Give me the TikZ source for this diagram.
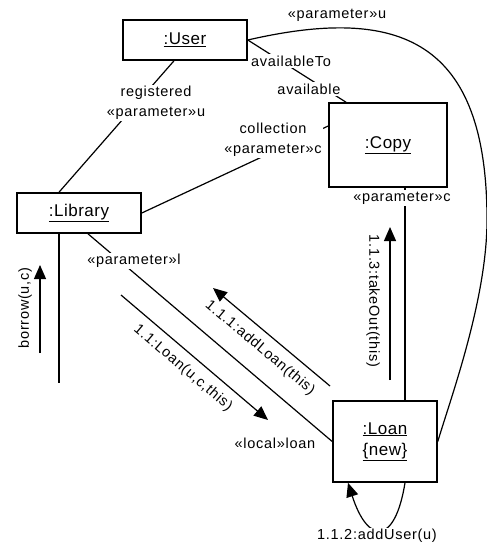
\documentclass[tikz,border=0pt]{standalone}
\usepackage{fontspec}
\setmainfont{Liberation Sans}[LetterSpace=5]
\newfontfamily\boxfont{Liberation Sans}[LetterSpace=3]
\usetikzlibrary{arrows.meta}
\begin{document}
\begin{tikzpicture}[x=1pt,y=-1pt,
  obj/.style={draw,line width=1.6pt,inner sep=0pt,align=center,font=\boxfont\fontsize{17}{21}\selectfont},
  conn/.style={line width=1.2pt},
  msg/.style={line width=1.2pt,-{Triangle[length=14pt,width=12pt]}},
  lbl/.style={fill=white,inner sep=1.5pt,align=center,font=\fontsize{14.5}{20}\selectfont},
  mlbl/.style={inner sep=0pt,font=\fontsize{14.5}{17}\selectfont}]
\useasboundingbox (0,0) rectangle (487,546);
% objects
\node[obj,minimum width=124pt,minimum height=40pt] (user) at (185,40) {\underline{:User}};
\node[obj,minimum width=118pt,minimum height=84pt] (copy) at (388,145) {\underline{:Copy}};
\node[obj,minimum width=124pt,minimum height=40pt] (lib) at (79,213) {\underline{:Library}};
\node[obj,minimum width=104pt,minimum height=81pt] (loan) at (385,441.5) {\underline{:Loan}\\\underline{\{new\}}};
% links
\draw[conn] ([xshift=-11pt]user.south) -- ([xshift=-20pt]lib.north);
\draw[conn] (user.east) -- ([xshift=-42pt]copy.north);
\draw[conn] (lib.east) -- ([yshift=19pt]copy.west);
\draw[conn] ([xshift=9pt]lib.south) -- (loan.west);
\draw[conn] ([xshift=17pt]copy.south) -- ([xshift=20pt]loan.north);
\coordinate (libend) at (59,383);
\draw[conn] ([xshift=-20pt]lib.south) -- (libend);
\draw[conn] (user.east) .. controls (400,5) and (487,40) .. (487,220)
  .. controls (487,300) and (450,400) .. (loan.east);
\draw[msg] ([xshift=20pt]loan.south) .. controls (395,545) and (368,545) .. ([xshift=-37pt]loan.south);
% link labels
\node[lbl] (l1) at (156,103) {registered\\«parameter»u};
\node[lbl] (l2) at (291,61) {availableTo};
\node[lbl] (l3) at (309,89) {available};
\node[lbl] (l4) at (273,140) {collection\\«parameter»c};
\node[lbl] (l5) at (134,261) {«parameter»l};
\node[lbl] (l6) at (275,443) {«local»loan};
\node[lbl] (l7) at (402,198) {«parameter»c};
\node[lbl] (l8) at (337,15) {«parameter»u};
\node[lbl] (l9) at (377,536) {1.1.2:addUser(u)};
% messages
\coordinate (b1) at (40,353); \coordinate (b2) at (40,265);
\draw[msg] (b1) -- (b2);
\node[mlbl,rotate=90] (m1) at (25,308) {borrow(u,c)};
\coordinate (c1) at (121,295); \coordinate (c2) at (268,420);
\draw[msg] (c1) -- (c2);
\node[mlbl,rotate=-40.4] (m2) at (183,368) {1.1:Loan(u,c,this)};
\coordinate (d1) at (330,386); \coordinate (d2) at (213,288);
\draw[msg] (d1) -- (d2);
\node[mlbl,rotate=-40] (m3) at (260,348) {1.1.1:addLoan(this)};
\coordinate (e1) at (390,380); \coordinate (e2) at (390,227);
\draw[msg] (e1) -- (e2);
\node[mlbl,rotate=-90] (m4) at (373,301) {1.1.3:takeOut(this)};
\end{tikzpicture}
\end{document}
